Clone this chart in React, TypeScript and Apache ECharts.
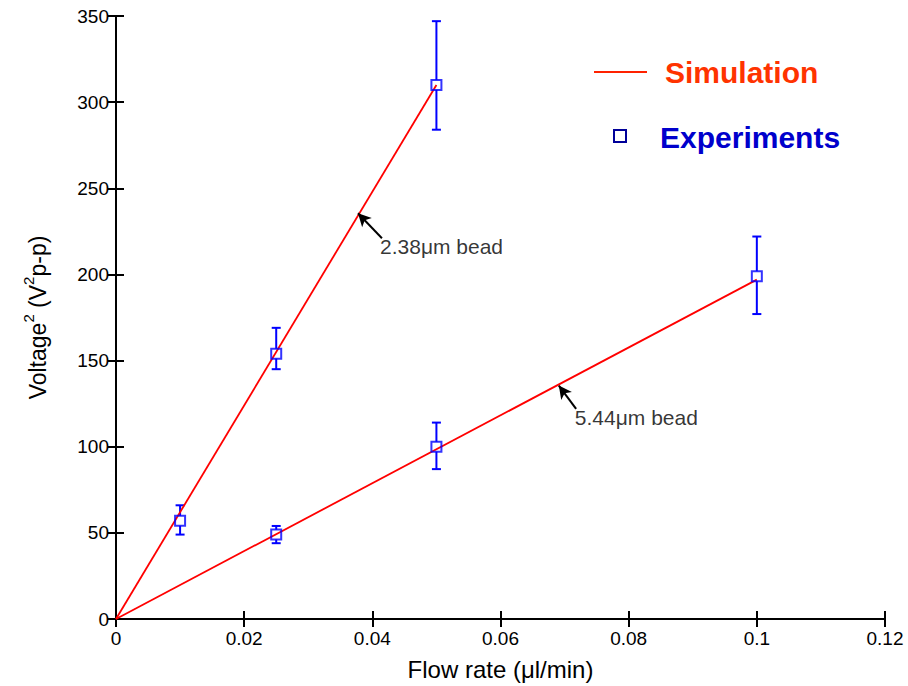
import React, { useEffect, useRef } from "react";
import * as echarts from "echarts";

// Simulation lines (flow rate, voltage^2)
const simSmallX = [0, 0.05];
const simSmallY = [0, 310];
const simLargeX = [0, 0.1];
const simLargeY = [0, 197];

// Experiments with error bars
const expX = [0.01, 0.025, 0.05, 0.025, 0.05, 0.1];
const expY = [57, 154, 310, 49, 100, 199];
const expLow = [49, 145, 284, 44, 87, 177];
const expHigh = [66, 169, 347, 54, 114, 222];

// Annotations: [textX, textY, arrowFromX, arrowFromY, arrowToX, arrowToY]
const noteTexts = ["2.38\u03bcm bead", "5.44\u03bcm bead"];
const notePos = [
  [0.0412, 216, 0.0415, 221, 0.03776, 235.5],
  [0.0716, 117, 0.0718, 122, 0.0691, 135.5],
];

const xMin = 0, xMax = 0.12, xStep = 0.02;
const yMin = 0, yMax = 350, yStep = 50;

const FONT = "'Liberation Sans', Arial, sans-serif";

export default function App() {
  const ref = useRef<HTMLDivElement>(null);
  useEffect(() => {
    if (!ref.current) return;
    const chart = echarts.init(ref.current, undefined, { renderer: "svg" });
    const axisLine = { show: true, lineStyle: { color: "#000", width: 2 } };
    const tick = { show: true, inside: true, length: 8, lineStyle: { color: "#000", width: 2 } };
    const fmtX = (v: number) => String(+v.toFixed(2));
    const option: any = {
      animation: false,
      backgroundColor: "#fff",
      textStyle: { fontFamily: FONT },
      grid: { left: 116, right: 23, top: 16, bottom: 64 },
      xAxis: [
        {
          type: "value", min: xMin, max: xMax, interval: xStep, position: "bottom",
          axisLine, axisTick: tick, splitLine: { show: false },
          axisLabel: { color: "#000", fontSize: 19, margin: 10, fontFamily: FONT, formatter: fmtX },
          name: "Flow rate (\u03bcl/min)", nameLocation: "middle", nameGap: 38,
          nameTextStyle: { color: "#000", fontSize: 24, fontFamily: FONT },
        },
        {
          type: "value", min: xMin, max: xMax, interval: xStep, position: "top",
          axisLine, axisTick: tick, splitLine: { show: false }, axisLabel: { show: false },
        },
      ],
      yAxis: [
        {
          type: "value", min: yMin, max: yMax, interval: yStep, position: "left",
          axisLine, axisTick: tick, splitLine: { show: false },
          axisLabel: { color: "#000", fontSize: 19, margin: 7, fontFamily: FONT },
          name: "{a|Voltage}{s|2}{a| (V}{s|2}{a|p-p)}", nameLocation: "middle", nameGap: 67, nameRotate: 90,
          nameTextStyle: {
            color: "#000", fontFamily: FONT,
            rich: {
              a: { fontSize: 23, color: "#000", fontFamily: FONT, lineHeight: 28, verticalAlign: "bottom" },
              s: { fontSize: 15, color: "#000", fontFamily: FONT, lineHeight: 28, verticalAlign: "top" },
            },
          },
        },
        {
          type: "value", min: yMin, max: yMax, interval: yStep, position: "right",
          axisLine, axisTick: tick, splitLine: { show: false }, axisLabel: { show: false },
        },
      ],
      series: [
        {
          name: "Simulation", type: "line", xAxisIndex: 0, yAxisIndex: 0,
          data: simSmallX.map((x, i) => [x, simSmallY[i]]),
          symbol: "none", lineStyle: { color: "#FF0000", width: 1.8 }, z: 3,
          markLine: {
            silent: true, symbol: ["none", "arrow"], symbolSize: [10, 13],
            label: { show: false },
            lineStyle: { color: "#000", width: 2, type: "solid" },
            data: notePos.map((p) => [{ coord: [p[2], p[3]] }, { coord: [p[4], p[5]] }]),
          },
        },
        {
          name: "Simulation2", type: "line", xAxisIndex: 0, yAxisIndex: 0,
          data: simLargeX.map((x, i) => [x, simLargeY[i]]),
          symbol: "none", lineStyle: { color: "#FF0000", width: 1.8 }, z: 3,
        },
        {
          name: "ErrorBars", type: "custom", xAxisIndex: 0, yAxisIndex: 0, z: 2,
          data: expX.map((x, i) => [x, expLow[i], expHigh[i], expY[i]]),
          renderItem: (params: any, api: any) => {
            const x = api.value(0);
            const lo = api.coord([x, api.value(1)]);
            const hi = api.coord([x, api.value(2)]);
            const c = api.coord([x, api.value(3)]);
            const w = 4.5;
            const half = 5;
            const st = { stroke: "#0000FF", lineWidth: 2 };
            return {
              type: "group",
              children: [
                { type: "line", shape: { x1: hi[0], y1: hi[1], x2: c[0], y2: c[1] - half }, style: st },
                { type: "line", shape: { x1: c[0], y1: c[1] + half, x2: lo[0], y2: lo[1] }, style: st },
                { type: "line", shape: { x1: hi[0] - w, y1: hi[1], x2: hi[0] + w, y2: hi[1] }, style: st },
                { type: "line", shape: { x1: lo[0] - w, y1: lo[1], x2: lo[0] + w, y2: lo[1] }, style: st },
              ],
            };
          },
        },
        {
          name: "Experiments", type: "scatter", xAxisIndex: 0, yAxisIndex: 0, z: 4,
          data: expX.map((x, i) => [x, expY[i]]),
          symbol: "rect", symbolSize: 10,
          itemStyle: { color: "transparent", borderColor: "#0000FF", borderWidth: 2 },
        },
        {
          name: "Notes", type: "scatter", xAxisIndex: 0, yAxisIndex: 0, z: 5, silent: true,
          data: notePos.map((p, i) => [p[0], p[1], noteTexts[i]]),
          symbolSize: 0,
          label: {
            show: true, position: "right", distance: 0,
            formatter: (p: any) => p.value[2],
            color: "#000", fontSize: 21, fontFamily: FONT,
          },
        },
      ],
      graphic: [
        { type: "line", shape: { x1: 594, y1: 72, x2: 647, y2: 72 }, style: { stroke: "#FF2200", lineWidth: 2 } },
        {
          type: "text", x: 665, y: 72,
          style: { text: "Simulation", fill: "#FF3300", font: `bold 30px ${FONT}`, textVerticalAlign: "middle" },
        },
        { type: "rect", shape: { x: 614, y: 130, width: 12, height: 12 }, style: { fill: "none", stroke: "#000099", lineWidth: 2 } },
        {
          type: "text", x: 660, y: 137,
          style: { text: "Experiments", fill: "#0000CC", font: `bold 30px ${FONT}`, textVerticalAlign: "middle" },
        },
      ],
    };
    chart.setOption(option);
    return () => chart.dispose();
  }, []);
  return <div ref={ref} style={{ position: "fixed", left: 0, top: 0, width: 908, height: 686 }} />;
}
